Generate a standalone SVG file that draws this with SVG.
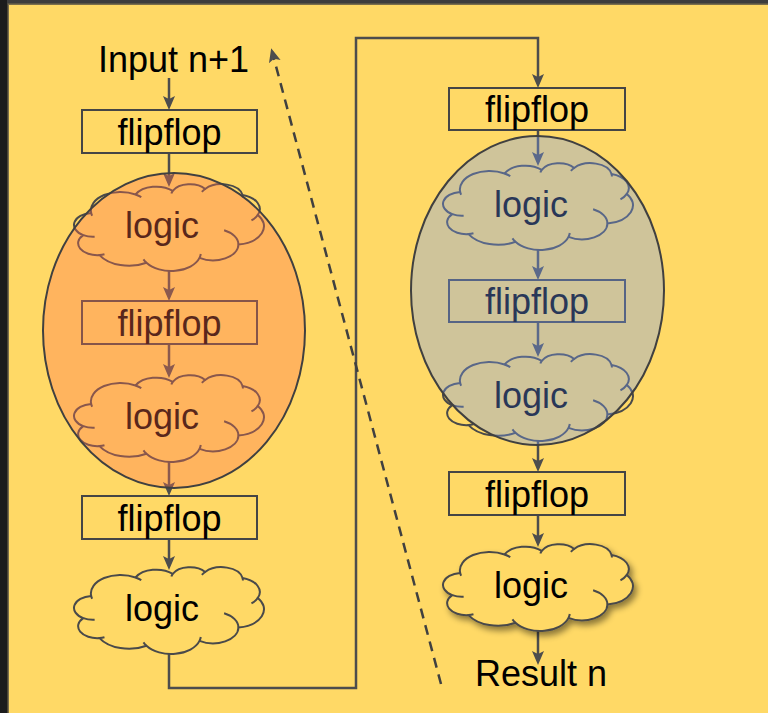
<svg xmlns="http://www.w3.org/2000/svg" width="768" height="713" viewBox="0 0 768 713">
  <defs>
    <style>
      .bx{fill:#FFD966;stroke:#454545;stroke-width:2}
      .cl{fill:#FFD966;stroke:#4a4a4a;stroke-width:2;stroke-linejoin:round}
      .ci{fill:none;stroke:#4a4a4a;stroke-width:2}
      .t{font-family:"Liberation Sans",Arial,sans-serif;font-size:36px;fill:#000}
      .c{text-anchor:middle}
      .ln{fill:none;stroke:#4d4d4d;stroke-width:2.5}
      .dash{fill:none;stroke:#404040;stroke-width:2.5;stroke-dasharray:10 7}
      .stage{stroke:#404040;stroke-width:2}
    </style>
    <!-- cloud outline, 190 x 87 box -->
    <path id="cloudOutline" d="M17.15,28.94 A29.70,18.51 0 0 1 61.57,10.46 A23.46,14.64 0 0 1 98.74,6.89 A19.20,11.97 0 0 1 131.19,4.97 A21.36,13.28 0 0 1 168.55,10.93 A23.46,14.65 0 0 1 183.83,30.92 A29.80,18.57 0 0 1 164.42,60.61 A25.44,15.84 0 0 1 125.50,73.92 A29.70,18.56 0 0 1 72.47,78.72 A33.95,21.23 0 0 1 25.52,71.08 A19.18,11.92 0 0 1 9.28,51.11 A19.11,11.97 0 0 1 17.15,28.94 Z"/>
    <!-- hidden lobe edges drawn inside the cloud -->
    <path id="cloudInner" d="M20.64,52.72 A19.11,11.97 0 0 1 9.28,51.11 M30.47,70.28 A19.18,11.92 0 0 1 25.52,71.08 M72.47,78.72 A29.70,18.56 0 0 1 69.45,75.36 M126.78,69.99 A29.70,18.56 0 0 1 125.50,73.92 M150.10,46.23 A25.44,15.84 0 0 1 164.42,60.61 M183.83,30.92 A23.46,14.65 0 0 1 177.46,36.31 M168.55,10.93 A21.36,13.28 0 0 1 168.89,13.47 M127.89,7.96 A21.36,13.28 0 0 1 131.19,4.97 M97.38,9.51 A19.20,11.97 0 0 1 98.74,6.89 M61.57,10.46 A29.70,18.51 0 0 1 67.29,13.17 M18.15,31.80 A29.70,18.51 0 0 1 17.15,28.94"/>
    <marker id="ah" markerUnits="userSpaceOnUse" markerWidth="14" markerHeight="14" viewBox="0 0 14 14" refX="10" refY="7" orient="auto">
      <path d="M0,1 L14,7 L0,13 L3,7 Z" fill="#4d4d4d"/>
    </marker>
    <filter id="shadow" x="-20%" y="-20%" width="150%" height="170%">
      <feDropShadow dx="3" dy="4" stdDeviation="3" flood-color="#000" flood-opacity="0.45"/>
    </filter>
  </defs>

  <!-- frame and background -->
  <rect x="0" y="0" width="768" height="713" fill="#1c1c1c"/>
  <rect x="7" y="0" width="761" height="4" fill="#3d3d3d"/>
  <rect x="7.5" y="3.5" width="761" height="710" fill="#7a6e4c"/>
  <rect x="9" y="5" width="759" height="708" fill="#FFD966"/>

  <!-- connectors -->
  <g id="connectors">
    <line class="ln" x1="169" y1="78" x2="169" y2="106" marker-end="url(#ah)"/>
    <line class="ln" x1="169" y1="153" x2="169" y2="183" marker-end="url(#ah)"/>
    <line class="ln" x1="169" y1="271" x2="169" y2="297" marker-end="url(#ah)"/>
    <line class="ln" x1="169" y1="344" x2="169" y2="374" marker-end="url(#ah)"/>
    <line class="ln" x1="169" y1="462" x2="169" y2="492" marker-end="url(#ah)"/>
    <line class="ln" x1="169" y1="539" x2="169" y2="566" marker-end="url(#ah)"/>
    <path class="ln" d="M169,654 V688 H356 V38 H538 V84" marker-end="url(#ah)"/>
    <line class="ln" x1="538" y1="130" x2="538" y2="162" marker-end="url(#ah)"/>
    <line class="ln" x1="538" y1="250" x2="538" y2="276" marker-end="url(#ah)"/>
    <line class="ln" x1="538" y1="322" x2="538" y2="353" marker-end="url(#ah)"/>
    <line class="ln" x1="538" y1="441" x2="538" y2="468" marker-end="url(#ah)"/>
    <line class="ln" x1="538" y1="515" x2="538" y2="543" marker-end="url(#ah)"/>
    <line class="ln" x1="538" y1="631" x2="538" y2="661" marker-end="url(#ah)"/>
    <line class="dash" x1="441" y1="684" x2="272.2" y2="52" marker-end="url(#ah)"/>
  </g>

  <!-- left pipeline -->
  <g id="input-label"><text class="t" x="98" y="72">Input n+1</text></g>
  <g id="ff-l1"><rect class="bx" x="82" y="110" width="175" height="43"/><text class="t c" x="169.5" y="145">flipflop</text></g>
  <g id="logic-l1" transform="translate(74,184)"><use href="#cloudOutline" class="cl"/><use href="#cloudInner" class="ci"/><text class="t c" x="88" y="54">logic</text></g>
  <g id="ff-l2"><rect class="bx" x="82" y="301" width="175" height="43"/><text class="t c" x="169.5" y="336">flipflop</text></g>
  <g id="logic-l2" transform="translate(74,375)"><use href="#cloudOutline" class="cl"/><use href="#cloudInner" class="ci"/><text class="t c" x="88" y="54">logic</text></g>
  <g id="ff-l3"><rect class="bx" x="82" y="496" width="175" height="43"/><text class="t c" x="169.5" y="531">flipflop</text></g>
  <g id="logic-l3" transform="translate(74,567)"><use href="#cloudOutline" class="cl"/><use href="#cloudInner" class="ci"/><text class="t c" x="88" y="54">logic</text></g>

  <!-- right pipeline -->
  <g id="ff-r1"><rect class="bx" x="449" y="88" width="176" height="42"/><text class="t c" x="537" y="122">flipflop</text></g>
  <g id="logic-r1" transform="translate(443,163)"><use href="#cloudOutline" class="cl"/><use href="#cloudInner" class="ci"/><text class="t c" x="88" y="54">logic</text></g>
  <g id="ff-r2"><rect class="bx" x="449" y="280" width="176" height="42"/><text class="t c" x="537" y="314">flipflop</text></g>
  <g id="logic-r2" transform="translate(443,354)"><use href="#cloudOutline" class="cl"/><use href="#cloudInner" class="ci"/><text class="t c" x="88" y="54">logic</text></g>
  <g id="ff-r3"><rect class="bx" x="449" y="472" width="176" height="43"/><text class="t c" x="537" y="507">flipflop</text></g>
  <g id="logic-r3" transform="translate(443,544)"><use href="#cloudOutline" class="cl" filter="url(#shadow)"/><use href="#cloudInner" class="ci"/><text class="t c" x="88" y="54">logic</text></g>
  <g id="result-label"><text class="t" x="475" y="686">Result n</text></g>

  <!-- translucent stage groupings -->
  <g id="stage-left"><ellipse class="stage" cx="174" cy="330.5" rx="131" ry="157.5" fill="#FF7050" fill-opacity="0.35"/></g>
  <g id="stage-right"><ellipse class="stage" cx="537.5" cy="290.5" rx="126.5" ry="154.5" fill="#769DFD" fill-opacity="0.35"/></g>
</svg>
